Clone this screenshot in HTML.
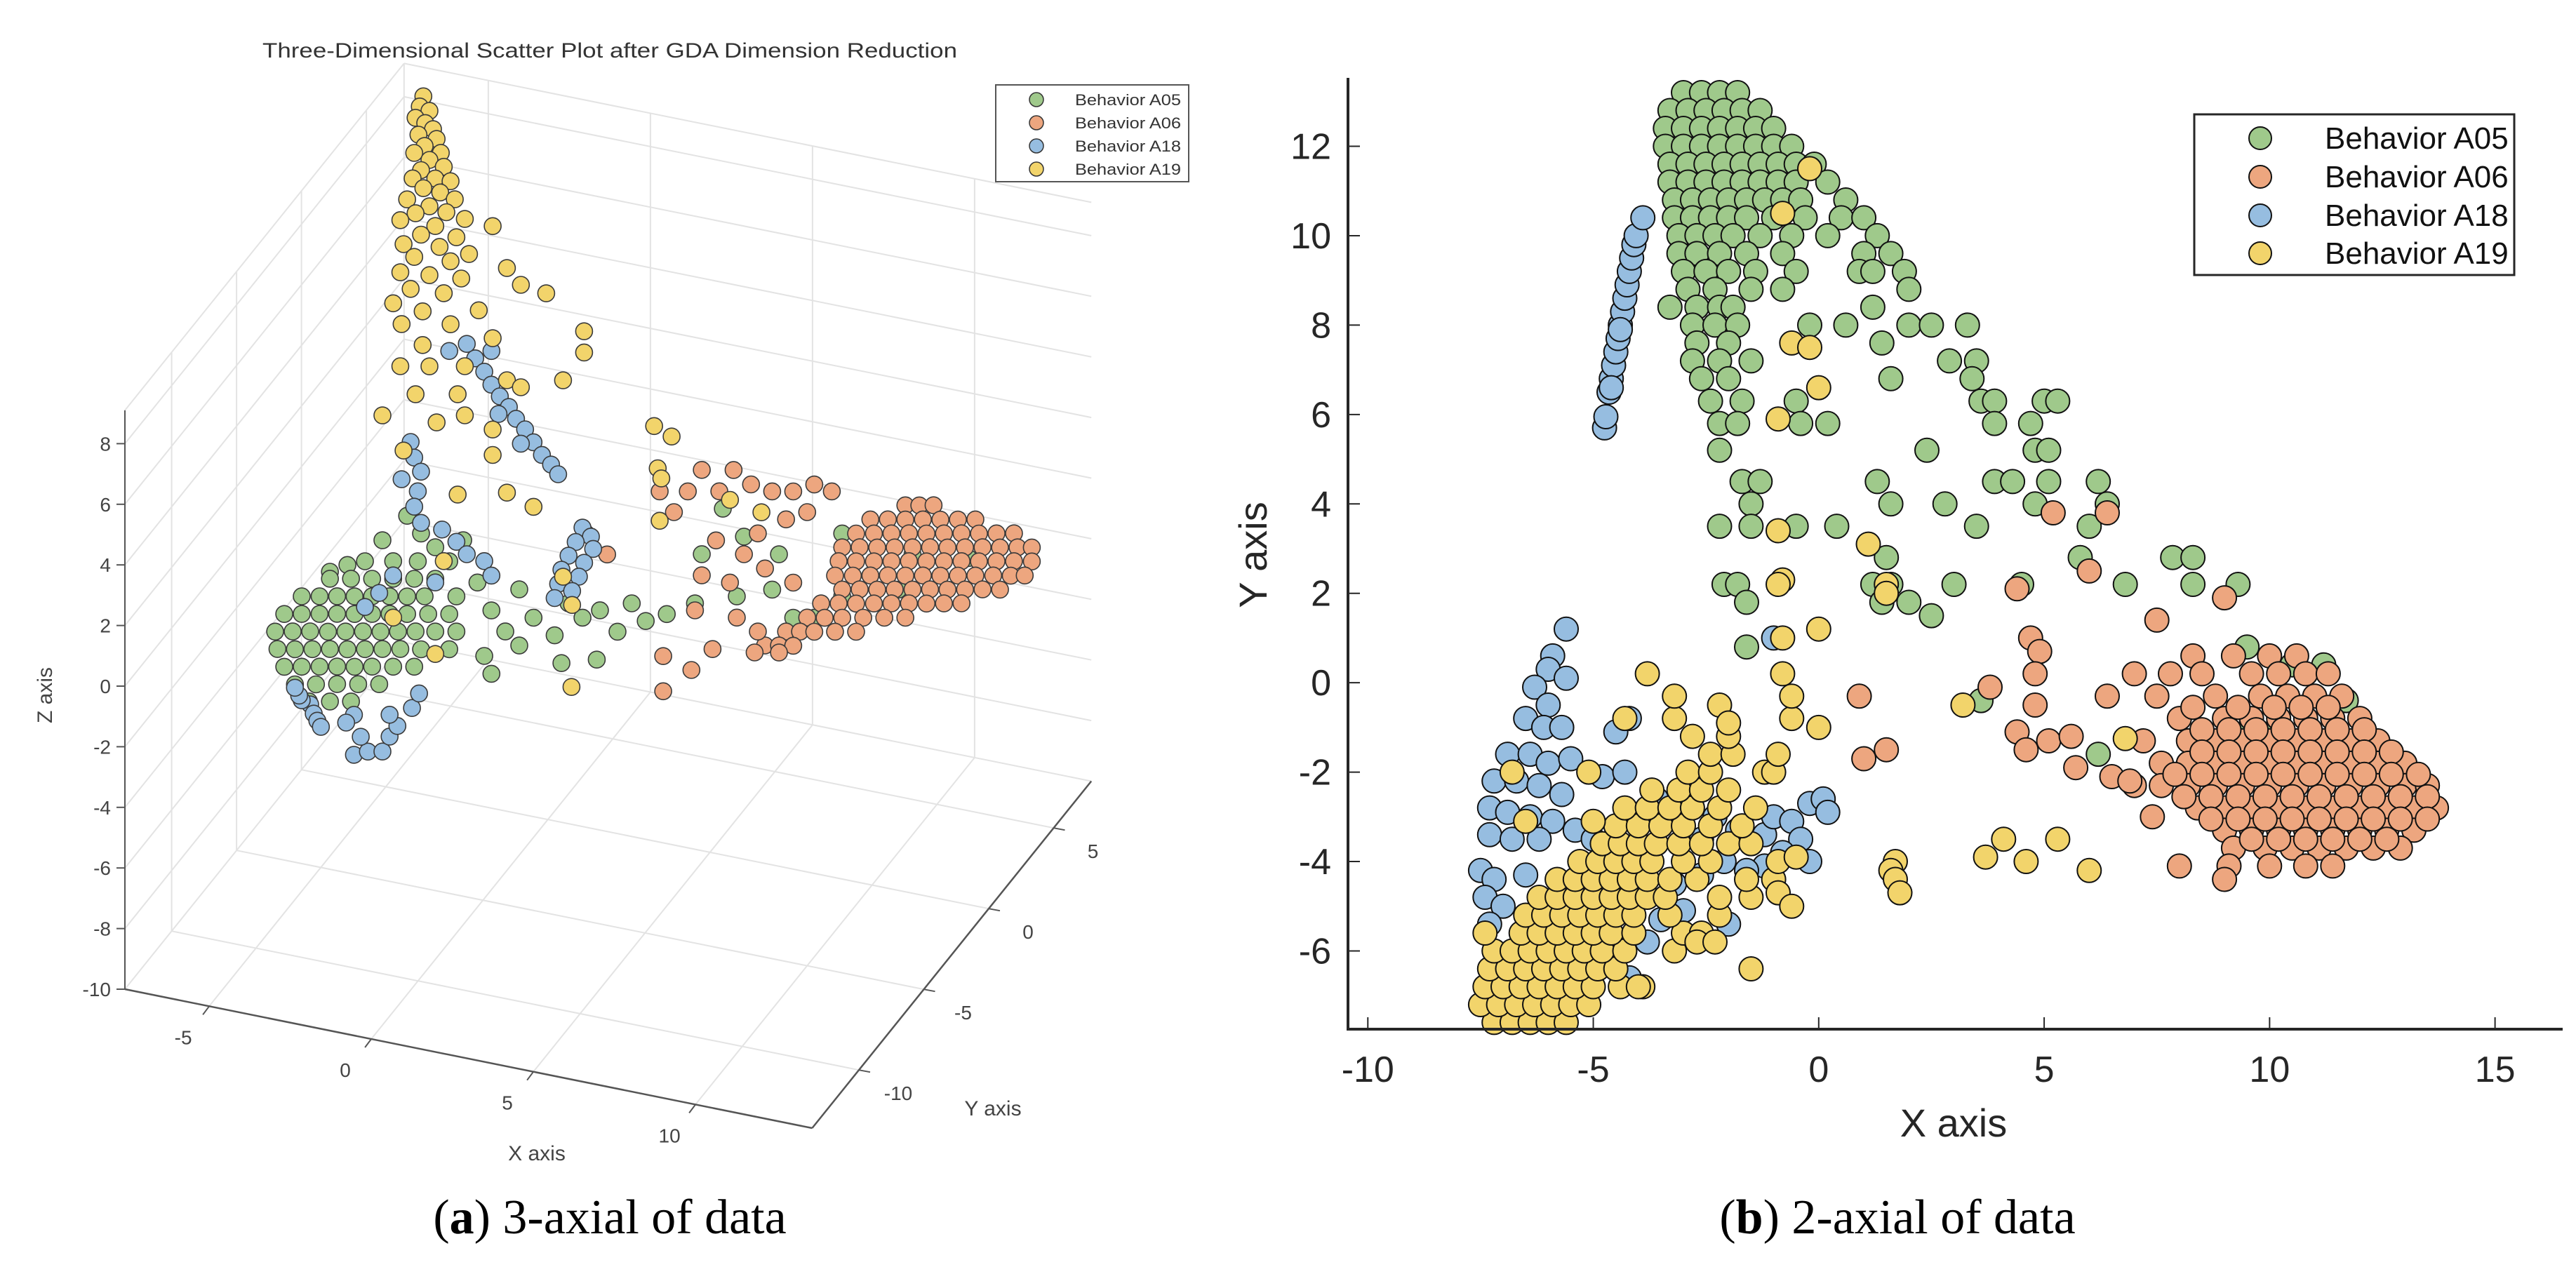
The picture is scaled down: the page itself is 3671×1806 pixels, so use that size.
<!DOCTYPE html>
<html><head><meta charset="utf-8"><style>
html,body{margin:0;padding:0;background:#fff}
svg{display:block}
text{font-family:"Liberation Sans",sans-serif}
.cap{font-family:"Liberation Serif",serif}
</style></head><body>
<svg id="fig" width="3671" height="1806" viewBox="0 0 3671 1806" xmlns="http://www.w3.org/2000/svg">
<rect x="0" y="0" width="3671" height="1806" fill="#fff"/>
<g id="p3">
  <g id="grid3"></g>
  <g id="axes3"></g>
  <g id="pts3"></g>
  <text x="869" y="82" font-size="30" fill="#333" text-anchor="middle" textLength="990" lengthAdjust="spacingAndGlyphs">Three-Dimensional Scatter Plot after GDA Dimension Reduction</text>
  <text x="765" y="1654" font-size="30" fill="#444" text-anchor="middle">X axis</text>
  <text x="1415" y="1590" font-size="30" fill="#444" text-anchor="middle">Y axis</text>
  <text x="0" y="0" font-size="30" fill="#444" text-anchor="middle" transform="translate(74,991) rotate(-90)">Z axis</text>
  <g>
    <rect x="1419" y="121" width="275" height="138" fill="#fff" stroke="#555" stroke-width="2"/>
    <circle cx="1477" cy="142" r="10" fill="#9fc98b" stroke="#333" stroke-width="1.5"/>
    <circle cx="1477" cy="175" r="10" fill="#eda67f" stroke="#333" stroke-width="1.5"/>
    <circle cx="1477" cy="208" r="10" fill="#96bde0" stroke="#333" stroke-width="1.5"/>
    <circle cx="1477" cy="241" r="10" fill="#f2d46b" stroke="#333" stroke-width="1.5"/>
    <text x="1532" y="150" font-size="22" fill="#333" textLength="151" lengthAdjust="spacingAndGlyphs">Behavior A05</text>
    <text x="1532" y="183" font-size="22" fill="#333" textLength="151" lengthAdjust="spacingAndGlyphs">Behavior A06</text>
    <text x="1532" y="216" font-size="22" fill="#333" textLength="151" lengthAdjust="spacingAndGlyphs">Behavior A18</text>
    <text x="1532" y="249" font-size="22" fill="#333" textLength="151" lengthAdjust="spacingAndGlyphs">Behavior A19</text>
  </g>
  <text class="cap" x="869" y="1758" font-size="70" fill="#000" text-anchor="middle">(<tspan font-weight="bold">a</tspan>) 3-axial of data</text>
</g>
<g id="p2">
  <g id="pts2"></g>
  <g id="axes2"></g>
  <text x="2784" y="1620" font-size="56" fill="#262626" text-anchor="middle">X axis</text>
  <text x="0" y="0" font-size="56" fill="#262626" text-anchor="middle" transform="translate(1805,791) rotate(-90)">Y axis</text>
  <g>
    <rect x="3127" y="163" width="456" height="229" fill="#fff" stroke="#262626" stroke-width="3"/>
    <circle cx="3221" cy="197" r="16" fill="#9fc98b" stroke="#111" stroke-width="2"/>
    <circle cx="3221" cy="252" r="16" fill="#eda67f" stroke="#111" stroke-width="2"/>
    <circle cx="3221" cy="307" r="16" fill="#96bde0" stroke="#111" stroke-width="2"/>
    <circle cx="3221" cy="361" r="16" fill="#f2d46b" stroke="#111" stroke-width="2"/>
    <text x="3313" y="212" font-size="44" fill="#111">Behavior A05</text>
    <text x="3313" y="267" font-size="44" fill="#111">Behavior A06</text>
    <text x="3313" y="322" font-size="44" fill="#111">Behavior A18</text>
    <text x="3313" y="376" font-size="44" fill="#111">Behavior A19</text>
  </g>
  <text class="cap" x="2704" y="1758" font-size="70" fill="#000" text-anchor="middle">(<tspan font-weight="bold">b</tspan>) 2-axial of data</text>
</g>
</svg>
<script>
// ===== 2D chart data (X axis, Y axis) =====
const xTicks2 = [-10, -5, 0, 5, 10, 15];
const yTicks2 = [-6, -4, -2, 0, 2, 4, 6, 8, 10, 12];
const seriesColors = ['#9fc98b', '#eda67f', '#96bde0', '#f2d46b'];
const seriesNames = ['a05', 'a06', 'a18', 'a19'];
// rows: [y, [x values]]
const a05Rows2D = [
 [13.2,[-3.0,-2.6,-2.2,-1.8]],[12.8,[-3.3,-2.9,-2.5,-2.1,-1.7,-1.3]],[12.4,[-3.4,-3.0,-2.6,-2.2,-1.8,-1.4,-1.0]],
 [12.0,[-3.4,-3.0,-2.6,-2.2,-1.8,-1.4,-1.0,-0.6]],[11.6,[-3.3,-2.9,-2.5,-2.1,-1.7,-1.3,-0.9,-0.5,-0.1]],
 [11.2,[-3.3,-2.9,-2.5,-2.1,-1.7,-1.3,-0.9,-0.5,0.2]],[10.8,[-3.2,-2.8,-2.4,-2.0,-1.6,-1.2,-0.8,-0.4,0.6]],
 [10.4,[-3.2,-2.8,-2.4,-2.0,-1.6,-1.0,-0.3,0.5,1.0]],[10.0,[-3.1,-2.7,-2.3,-1.9,-1.3,-0.6,0.2,1.3]],
 [9.6,[-3.1,-2.7,-2.2,-1.6,-0.8,1.0,1.6]],[9.2,[-3.0,-2.5,-2.0,-1.4,-0.5,0.9,1.2,1.9]],[8.8,[-2.9,-2.3,-1.5,-0.8,2.0]],
 [8.4,[-3.3,-2.7,-2.2,-1.9,1.2]],[8.0,[-2.8,-2.3,-1.8,-0.2,0.6,2.0,2.5,3.3]],[7.6,[-2.7,-2.0,1.4]],
 [7.2,[-2.8,-2.2,-1.5,2.9,3.5]],[6.8,[-2.6,-2.0,1.6,3.4]],[6.3,[-2.4,-1.7,-0.5,3.6,3.9,5.0,5.3]],
 [5.8,[-2.2,-1.8,-0.4,0.2,3.9,4.7]],[5.2,[-2.2,2.4,4.8,5.1]],[4.5,[-1.7,-1.3,1.3,3.9,4.3,5.1,6.2]],
 [4.0,[-1.5,1.6,2.8,4.8,6.4]],[3.5,[-2.2,-1.5,-0.5,0.4,3.5,6.0]],[2.8,[1.5,5.8,7.85,8.3]],
 [2.2,[-2.1,-1.8,1.2,1.6,3.0,4.5,6.8,8.3,9.3]],[1.8,[-1.6,1.4,2.0]],[1.5,[2.5]],[0.8,[-1.6,9.5]],
 [0.4,[10.5,11.2]],[-0.4,[11.7,3.6]],[-0.9,[9.6,10.2]],[-1.6,[6.2]]
];
const a06Rows2D = [
 [0.6,[8.3,9.2,10.0,10.6]],[0.2,[7.0,7.8,8.5,9.6,10.2,10.8,11.3]],[-0.3,[7.5,8.8,9.8,10.4,11.0,11.6]],
 [-0.8,[8.0,9.0,9.6,10.2,10.8,11.4,12.0]],[-1.3,[7.2,8.2,8.8,9.4,10.0,10.6,11.2,11.8,12.4]],
 [-1.8,[7.6,8.2,8.8,9.4,10.0,10.6,11.2,11.8,12.4,13.0]],[-2.3,[7.0,7.6,8.2,8.8,9.4,10.0,10.6,11.2,11.8,12.4,13.0,13.5]],
 [-2.8,[8.4,9.0,9.6,10.2,10.8,11.4,12.0,12.6,13.2,13.7]],[-3.3,[9.0,9.6,10.2,10.8,11.4,12.0,12.6,13.2]],
 [-3.7,[9.2,9.9,10.5,11.1,11.7,12.3,12.9]],[-4.1,[8.0,9.1,10.0,10.8,11.4]],[-4.4,[9.0]],
 [-1.05,[8.5,9.1,9.7,10.3,10.9,11.5,12.1]],[-1.55,[8.5,9.1,9.7,10.3,10.9,11.5,12.1,12.7]],
 [-2.05,[7.9,8.5,9.1,9.7,10.3,10.9,11.5,12.1,12.7,13.3]],[-2.55,[8.1,8.7,9.3,9.9,10.5,11.1,11.7,12.3,12.9,13.5]],
 [-3.05,[8.7,9.3,9.9,10.5,11.1,11.7,12.3,12.9,13.5]],[-3.5,[9.6,10.2,10.8,11.4,12.0,12.6]],
 [-0.55,[8.3,9.3,10.1,10.7,11.3]],
 [3.8,[5.2,6.4]],[2.5,[6.0]],[2.1,[4.4]],[1.4,[7.5]],[1.9,[9.0]],[1.0,[4.7]],[0.7,[4.9]],[0.2,[4.8]],
 [-0.1,[3.8]],[-0.5,[4.8]],[-0.3,[6.4,0.9]],[-1.1,[4.4]],[-1.5,[4.6,1.5]],[-1.3,[5.1]],[-1.2,[5.6]],
 [-1.9,[5.7]],[-2.1,[6.5]],[-2.2,[6.9]],[-3.0,[7.4]],[-1.7,[1.0]]
];
const a18Points2D = [
 [-4.75,5.7],[-4.72,5.95],[-4.65,6.5],[-4.6,6.8],[-4.55,7.1],[-4.5,7.4],[-4.45,7.7],[-4.4,8.0],[-4.35,8.3],
 [-4.3,8.6],[-4.25,8.9],[-4.2,9.2],[-4.15,9.5],[-4.1,9.8],[-4.05,10.0],[-3.9,10.4],[-4.6,6.6],[-4.4,7.9],
 [-5.6,1.2],[-5.9,0.6],[-6.0,0.3],[-5.6,0.1],[-6.3,-0.1],[-6.0,-0.5],[-6.5,-0.8],[-6.1,-1.0],[-5.7,-1.0],
 [-6.9,-1.6],[-6.4,-1.6],[-6.0,-1.8],[-5.5,-1.7],[-7.2,-2.2],[-6.7,-2.2],[-6.2,-2.3],[-5.7,-2.5],[-7.3,-2.8],
 [-6.9,-2.9],[-6.4,-3.0],[-5.9,-3.1],[-5.4,-3.3],[-7.3,-3.4],[-6.8,-3.5],[-6.2,-3.5],[-5.0,-3.5],[-4.5,-3.7],
 [-7.5,-4.2],[-7.2,-4.4],[-6.5,-4.3],[-7.4,-4.8],[-7.0,-5.0],[-7.3,-5.4],[-4.8,-2.1],[-4.3,-2.0],[-4.5,-1.1],
 [-4.2,-0.8],[-3.6,-2.6],[-3.0,-2.4],[-2.3,-3.0],[-1.8,-3.3],[-1.2,-3.4],[-1.0,-3.0],[-0.6,-3.1],[-0.2,-2.7],
 [0.1,-2.6],[0.2,-2.9],[-0.4,-3.5],[-0.8,-3.8],[-1.2,-4.1],[-1.6,-4.2],[-2.1,-4.0],[-2.6,-4.3],[-3.2,-4.5],
 [-3.5,-5.3],[-3.0,-5.1],[-4.0,-4.8],[-4.5,-4.3],[-2.6,-3.5],[-1.0,1.0],[-0.2,-4.0],[-3.8,-5.8],[-4.2,-6.6],[-2.0,-5.4]
];
const a19Rows2D = [
 [-7.6,[-7.2,-6.8,-6.4,-6.0,-5.6]],[-7.2,[-7.5,-7.1,-6.7,-6.3,-5.9,-5.5,-5.1]],
 [-6.8,[-7.4,-7.0,-6.6,-6.2,-5.8,-5.4,-5.0,-4.4,-3.9,-4.0]],[-6.4,[-7.3,-6.9,-6.5,-6.1,-5.7,-5.3,-4.9,-4.5,-1.5]],
 [-6.0,[-7.2,-6.8,-6.4,-6.0,-5.6,-5.2,-4.8,-4.3,-3.2]],[-5.6,[-7.4,-6.6,-6.2,-5.8,-5.4,-5.0,-4.6,-4.1,-3.0,-2.6]],
 [-5.8,[-2.7,-2.3]],[-5.2,[-6.5,-6.1,-5.7,-5.3,-4.9,-4.5,-4.1,-3.3,-2.2]],
 [-4.8,[-6.2,-5.8,-5.4,-5.0,-4.6,-4.2,-3.8,-3.4,-2.2,-1.5]],[-4.4,[-5.8,-5.4,-5.0,-4.6,-4.2,-3.8,-3.3,-2.7,-1.6,-1.0]],
 [-4.0,[-5.3,-4.9,-4.5,-4.1,-3.7,-3.0,-2.4,-0.9]],[-3.6,[-4.8,-4.4,-4.0,-3.6,-3.1,-2.6,-2.0,-1.5]],
 [-3.2,[-4.5,-4.0,-3.5,-3.0,-2.4,-1.7]],[-2.8,[-4.3,-3.8,-3.3,-2.8,-2.2,-1.4]],[-2.4,[-3.7,-3.1,-2.6,-2.0]],
 [-2.0,[-2.9,-2.4,-1.2,-1.0,-5.1,-6.8]],[-1.6,[-2.4,-1.9,-0.9]],[-1.2,[-2.0,-2.8]],[-0.8,[-3.2,-0.6,-4.3]],
 [0.2,[-3.8,-0.8]],[-0.3,[-3.2,-0.6]],[-0.5,[-2.2,3.2]],[-0.9,[-2.0]],[-3.1,[-6.5,-5.0]],[-1.0,[0.0]],
 [1.2,[0.0]],[2.3,[-0.8]],[2.2,[-0.9,1.5]],[3.4,[-0.9]],[3.1,[1.1]],[2.0,[1.5]],[7.6,[-0.6]],[7.5,[-0.2]],
 [6.6,[0.0]],[5.9,[-0.9]],[10.5,[-0.8]],[11.5,[-0.2]],[1.0,[-0.8]],[-1.25,[6.8]],[-3.9,[3.7,-0.5]],
 [-3.5,[4.1,5.3]],[-4.0,[4.6,1.7]],[-4.2,[6.0,1.6]],[-4.4,[1.7]],[-4.7,[1.8,-0.9]],[-5.0,[-0.6]]
];

// ===== 3D chart data (X, Y, Z) =====
const xTicks3 = [-5, 0, 5, 10];
const yTicks3 = [-10, -5, 0, 5];
const zTicks3 = [-10, -8, -6, -4, -2, 0, 2, 4, 6, 8];
const depthY3 = -3; // Y value of the plotted points
const a05Points3D = [
 [-4.44,-0.84],[-3.57,-0.65],[-2.81,-0.49],[-5.52,-1.42],[-4.98,-1.08],
 [-5.52,-1.65],[-4.87,-1.51],[-4.22,-1.37],[-3.57,-1.23],[-2.92,-1.09],[-2.27,-0.95],
 [-6.39,-2.42],[-5.84,-2.30],[-5.30,-2.18],[-4.76,-2.07],[-4.22,-1.95],[-3.68,-1.83],[-3.14,-1.72],[-2.60,-1.60],
 [-6.93,-3.12],[-6.39,-3.00],[-5.84,-2.88],[-5.30,-2.76],[-4.76,-2.65],[-4.22,-2.53],[-3.68,-2.41],[-3.14,-2.30],[-2.49,-2.16],[-1.84,-2.02],
 [-7.21,-3.76],[-6.67,-3.64],[-6.13,-3.52],[-5.58,-3.41],[-5.04,-3.29],[-4.50,-3.17],[-3.96,-3.06],[-3.42,-2.94],[-2.88,-2.82],[-2.27,-2.69],[-1.62,-2.55],
 [-7.14,-4.32],[-6.60,-4.21],[-6.06,-4.09],[-5.52,-3.97],[-4.98,-3.86],[-4.44,-3.74],[-3.90,-3.62],[-3.35,-3.50],[-2.71,-3.37],
 [-6.93,-4.86],[-6.39,-4.74],[-5.84,-4.62],[-5.30,-4.50],[-4.76,-4.39],[-4.22,-4.27],[-3.57,-4.13],[-2.92,-3.99],
 [-6.60,-5.37],[-5.95,-5.23],[-5.30,-5.08],[-4.65,-4.94],[-4.00,-4.80],[-6.17,-5.84],[-5.52,-5.70],[-4.87,-5.56],
 [-1.62,-1.39],[-0.97,-0.79],[-0.54,-1.62],[-0.11,-2.22],[0.32,-0.74],[0.76,-1.58],[1.41,-2.02],[1.84,-0.87],
 [2.27,-1.25],[2.81,-0.89],[3.35,-1.48],[3.79,-0.45],[4.22,-0.94],[4.87,-0.57],[5.74,-0.03],[7.03,0.48],
 [8.12,0.94],[8.77,0.15],[-1.84,-3.18],[-0.76,-3.17],[0.32,-2.59],[1.62,-2.89],[2.71,-2.54],[-0.54,-3.71],
 [5.95,1.64],[6.60,3.28],[10.28,3.26],[11.15,2.06],[12.01,1.78],[12.45,3.04],[14.18,3.29],[9.42,0.29],
 [10.28,1.18],[-2.27,0.09],[-2.71,0.45],[-3.14,0.94],[-1.84,-0.28],[-1.41,0.51],[-3.90,-0.03],[7.25,2.50],[8.33,2.15]
];
const a06Points3D = [
 [12.23,4.61],[12.66,4.70],[13.10,4.80],
 [11.15,3.91],[11.69,4.03],[12.23,4.14],[12.77,4.26],[13.31,4.37],[13.85,4.49],[14.39,4.61],
 [10.71,3.35],[11.26,3.47],[11.80,3.59],[12.34,3.71],[12.88,3.82],[13.42,3.94],[13.96,4.06],[14.50,4.17],[15.04,4.29],[15.58,4.41],
 [10.28,2.80],[10.82,2.92],[11.36,3.03],[11.90,3.15],[12.45,3.27],[12.99,3.39],[13.53,3.50],[14.07,3.62],[14.61,3.74],[15.15,3.85],[15.69,3.97],[16.13,4.06],
 [10.17,2.32],[10.71,2.43],[11.26,2.55],[11.80,2.67],[12.34,2.79],[12.88,2.90],[13.42,3.02],[13.96,3.14],[14.50,3.25],[15.04,3.37],[15.58,3.49],[16.13,3.60],
 [10.06,1.82],[10.61,1.94],[11.15,2.06],[11.69,2.18],[12.23,2.29],[12.77,2.41],[13.31,2.52],[13.85,2.64],[14.39,2.76],[14.94,2.88],[15.48,2.99],[15.91,3.09],
 [10.28,1.41],[10.82,1.53],[11.36,1.64],[11.90,1.76],[12.45,1.88],[12.99,2.00],[13.53,2.11],[14.07,2.23],[14.61,2.35],[15.15,2.46],
 [9.63,0.81],[10.17,0.93],[10.71,1.04],[11.26,1.16],[11.80,1.28],[12.34,1.40],[12.88,1.51],[13.42,1.63],[13.96,1.75],
 [9.20,0.25],[9.74,0.36],[10.28,0.48],[10.93,0.62],[11.58,0.76],[12.23,0.90],
 [8.55,-0.35],[8.98,-0.26],[9.42,-0.17],[10.06,-0.03],[10.71,0.11],[7.90,-0.95],[8.33,-0.86],[8.77,-0.77],
 [5.95,4.42],[6.49,3.83],[6.93,4.63],[7.47,4.27],[8.12,4.18],[8.77,4.32],[9.42,4.69],[9.96,4.58],[9.20,3.73],
 [8.55,3.35],[7.68,2.70],[7.25,1.92],[6.39,2.19],[5.52,3.62],[5.09,2.84],[4.65,3.43],[5.95,0.94],[6.82,0.89],
 [7.90,1.59],[8.77,1.31],[7.68,-0.54],[8.33,-1.09],[7.58,-1.25],[6.28,-1.42],[5.63,-2.25],[5.74,-0.26],
 [4.76,-3.14],[7.03,-0.22],[4.76,-1.98],[2.38,1.55],[3.03,1.00]
];
const a18Points3D = [
 [-1.04,6.59],[-0.76,6.21],[-0.54,5.83],[-0.28,5.50],[0.00,5.21],[0.22,4.87],[0.50,4.58],[0.76,4.21],[1.02,3.85],
 [1.30,3.59],[1.52,3.32],[-0.32,4.91],[0.37,4.08],[-1.30,7.01],[-1.84,6.66],[-0.54,6.94],
 [-3.03,3.40],[-2.92,2.91],[-2.71,2.49],[-2.81,1.82],[-2.92,1.29],[-2.71,0.80],[-2.06,0.72],[-1.62,0.41],
 [-1.30,0.07],[-0.76,-0.04],[-0.54,-0.47],[-2.27,-1.07],[-3.57,-1.12],[-4.00,-1.79],[-4.44,-2.35],[-3.31,2.11],
 [2.27,1.72],[2.53,1.48],[2.06,1.20],[2.60,1.09],[1.84,0.70],[2.32,0.57],[1.62,0.19],[2.16,0.08],[1.52,-0.30],
 [1.95,-0.44],[1.41,-0.79],
 [-4.78,-7.30],[-4.35,-7.10],[-3.90,-7.00],[-4.57,-6.66],[-3.68,-6.46],[-3.44,-6.06],[-3.68,-5.74],[-2.99,-5.37],
 [-2.77,-4.84],[-4.78,-5.98],[-5.02,-6.29],
 [-6.13,-5.93],[-6.02,-6.21],[-5.91,-6.42],[-5.80,-6.60],[-6.39,-5.85],[-6.47,-5.71],[-6.60,-5.48]
];
const a19Points3D = [
 [-2.64,14.89],[-2.75,14.53],[-2.45,14.45],[-2.88,14.13],[-2.58,14.02],[-2.34,13.87],[-2.79,13.59],[-2.23,13.57],
 [-2.60,13.26],[-2.92,12.96],[-2.10,13.14],[-2.45,12.83],[-2.71,12.44],[-2.01,12.70],[-2.97,12.11],[-2.27,12.26],
 [-1.80,12.27],[-2.64,11.86],[-2.12,11.83],[-3.14,11.38],[-1.67,11.70],[-2.45,11.30],[-1.93,11.22],[-2.88,10.98],
 [-3.35,10.65],[-1.36,11.12],[-2.27,10.69],[-2.71,10.31],[-1.62,10.46],[-3.25,9.88],[-2.14,10.03],[-0.50,11.07],
 [-2.92,9.53],[-1.80,9.63],[-1.23,9.99],[-3.35,8.93],[-2.45,9.03],[-1.47,9.13],[-3.03,8.45],[-2.01,8.53],
 [-0.06,9.78],[0.37,9.32],[-3.57,7.86],[-2.66,7.79],[-0.93,8.20],[1.15,9.21],[-3.31,7.23],[-1.80,7.55],
 [-0.50,7.37],[-2.66,6.68],[2.32,8.21],[2.32,7.51],[-3.35,5.83],[-2.45,6.02],[-1.36,6.26],[-0.06,6.08],
 [1.67,6.45],[-2.88,5.01],[-1.58,5.29],[0.37,5.94],[-3.90,4.09],[-2.23,4.22],[-0.50,4.36],[-1.36,4.64],
 [-3.25,3.07],[-0.50,3.52],[4.48,5.55],[5.02,5.32],[4.59,4.18],[4.70,3.87],[4.65,2.46],[0.76,2.08],
 [-0.06,2.37],[-1.58,1.98],[-2.01,-0.31],[1.67,-0.03],[1.95,-0.90],[6.82,3.62],[7.79,3.42],[-3.57,-2.51],
 [-2.27,-3.43],[1.93,-3.61]
];

const NS = 'http://www.w3.org/2000/svg';
function mk(tag, attrs, parent) {
  const e = document.createElementNS(NS, tag);
  for (const k in attrs) e.setAttribute(k, attrs[k]);
  parent.appendChild(e);
  return e;
}

// ---------- 2D axes ----------
const X2 = { min: -10.44, max: 16.5, left: 1921, right: 3652 };
const Y2 = { min: -7.75, max: 13.53, bottom: 1467, top: 111 };
function sx2(v) { return X2.left + (v - X2.min) / (X2.max - X2.min) * (X2.right - X2.left); }
function sy2(v) { return Y2.bottom - (v - Y2.min) / (Y2.max - Y2.min) * (Y2.bottom - Y2.top); }

const pts2 = document.getElementById('pts2');
function expandRows(rows) { const out = []; rows.forEach(r => r[1].forEach(x => out.push([x, r[0]]))); return out; }
const series2 = [expandRows(a05Rows2D), expandRows(a06Rows2D), a18Points2D, expandRows(a19Rows2D)];
series2.forEach((pts, si) => {
  const g = mk('g', {}, pts2);
  
  
  pts.forEach(p => {
    const c = mk('circle', { cx: sx2(p[0]).toFixed(1), cy: sy2(p[1]).toFixed(1), r: 17, fill: seriesColors[si], stroke: '#111', 'stroke-width': 2 }, g);
    
    
  });
});

const axes2 = document.getElementById('axes2');
const ya = mk('line', { x1: X2.left, y1: Y2.top, x2: X2.left, y2: Y2.bottom + 2, stroke: '#262626', 'stroke-width': 4 }, axes2);


const xa = mk('line', { x1: X2.left - 2, y1: Y2.bottom, x2: X2.right, y2: Y2.bottom, stroke: '#262626', 'stroke-width': 4 }, axes2);


xTicks2.forEach(t => {
  const x = sx2(t);
  const tk = mk('line', { x1: x, y1: Y2.bottom, x2: x, y2: Y2.bottom - 17, stroke: '#262626', 'stroke-width': 2 }, axes2);
  
  
  const tx = mk('text', { x: x, y: 1542, 'font-size': 52, fill: '#262626', 'text-anchor': 'middle' }, axes2);
  
  
  tx.textContent = String(t);
});
yTicks2.forEach(t => {
  const y = sy2(t);
  const tk = mk('line', { x1: X2.left, y1: y, x2: X2.left + 17, y2: y, stroke: '#262626', 'stroke-width': 2 }, axes2);
  
  
  const tx = mk('text', { x: 1897, y: y + 18, 'font-size': 52, fill: '#262626', 'text-anchor': 'end' }, axes2);
  
  
  tx.textContent = String(t);
});

// ---------- 3D axes (orthographic projection) ----------
const R3 = { xmin: -7.6, xmax: 13.6, ymin: -13.6, ymax: 7.9, zmin: -10, zmax: 9.1 };
const ORIGIN3 = [178, 1410];
const EX = [46.2, 9.34], EY = [18.5, -23], EZ = [0, -43.2];
function P3(x, y, z) {
  const a = x - R3.xmin, b = y - R3.ymin, c = z - R3.zmin;
  return [ORIGIN3[0] + a * EX[0] + b * EY[0] + c * EZ[0], ORIGIN3[1] + a * EX[1] + b * EY[1] + c * EZ[1]];
}
const grid3 = document.getElementById('grid3');
function gline(p, q, name) {
  const l = mk('line', { x1: p[0].toFixed(1), y1: p[1].toFixed(1), x2: q[0].toFixed(1), y2: q[1].toFixed(1), stroke: '#e3e3e3', 'stroke-width': 2 }, grid3);
  
  
}
zTicks3.concat([R3.zmax]).forEach(z => {
  gline(P3(R3.xmin, R3.ymin, z), P3(R3.xmin, R3.ymax, z), 'z-gridline-left-wall');
  gline(P3(R3.xmin, R3.ymax, z), P3(R3.xmax, R3.ymax, z), 'z-gridline-back-wall');
});
yTicks3.forEach(y => {
  gline(P3(R3.xmin, y, R3.zmin), P3(R3.xmin, y, R3.zmax), 'y-gridline-left-wall');
  gline(P3(R3.xmin, y, R3.zmin), P3(R3.xmax, y, R3.zmin), 'y-gridline-floor');
});
xTicks3.forEach(x => {
  gline(P3(x, R3.ymax, R3.zmin), P3(x, R3.ymax, R3.zmax), 'x-gridline-back-wall');
  gline(P3(x, R3.ymin, R3.zmin), P3(x, R3.ymax, R3.zmin), 'x-gridline-floor');
});
gline(P3(R3.xmin, R3.ymax, R3.zmin), P3(R3.xmin, R3.ymax, R3.zmax), 'back-corner-edge');

const axes3 = document.getElementById('axes3');
function aline(p, q, name, w) {
  const l = mk('line', { x1: p[0].toFixed(1), y1: p[1].toFixed(1), x2: q[0].toFixed(1), y2: q[1].toFixed(1), stroke: '#555', 'stroke-width': w }, axes3);
  
  
}
aline(P3(R3.xmin, R3.ymin, R3.zmin), P3(R3.xmin, R3.ymin, R3.zmax), 'z-axis-line-3d', 2);
aline(P3(R3.xmin, R3.ymin, R3.zmin), P3(R3.xmax, R3.ymin, R3.zmin), 'x-axis-line-3d', 2.5);
aline(P3(R3.xmax, R3.ymin, R3.zmin), P3(R3.xmax, R3.ymax, R3.zmin), 'y-axis-line-3d', 2.5);
function alabel(x, y, txt, name, anchor) {
  const t = mk('text', { x: x.toFixed(1), y: y.toFixed(1), 'font-size': 28, fill: '#444', 'text-anchor': anchor }, axes3);
  
  
  t.textContent = txt;
}
zTicks3.forEach(z => {
  const p = P3(R3.xmin, R3.ymin, z);
  aline(p, [p[0] - 12, p[1]], 'z-tick-3d', 2);
  alabel(p[0] - 20, p[1] + 10, String(z), 'z-tick-label-3d', 'end');
});
xTicks3.forEach(x => {
  const p = P3(x, R3.ymin, R3.zmin);
  aline(p, [p[0] - 9, p[1] + 12], 'x-tick-3d', 2);
  alabel(p[0] - 37, p[1] + 54, String(x), 'x-tick-label-3d', 'middle');
});
yTicks3.forEach(y => {
  const p = P3(R3.xmax, y, R3.zmin);
  aline(p, [p[0] + 16, p[1] + 3], 'y-tick-3d', 2);
  alabel(p[0] + 56, p[1] + 43, String(y), 'y-tick-label-3d', 'middle');
});

const pts3 = document.getElementById('pts3');
const series3 = [a05Points3D, a06Points3D, a18Points3D, a19Points3D];
series3.forEach((pts, si) => {
  const g = mk('g', {}, pts3);
  
  
  pts.forEach(p => {
    const s = P3(p[0], depthY3, p[1]);
    const c = mk('circle', { cx: s[0].toFixed(1), cy: s[1].toFixed(1), r: 12, fill: seriesColors[si], stroke: '#3a3a3a', 'stroke-width': 1.6 }, g);
    
    
  });
});
</script>
</body></html>
